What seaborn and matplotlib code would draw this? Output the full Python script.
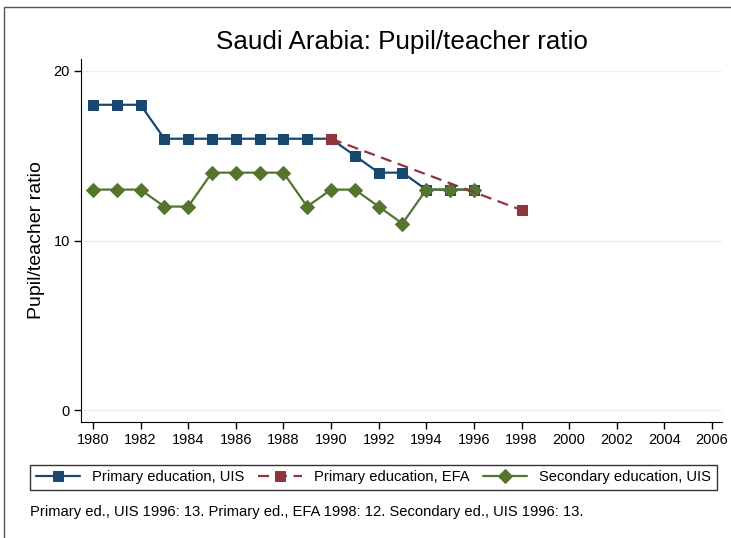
import numpy as np
import pandas as pd
import matplotlib
matplotlib.use("Agg")
import matplotlib.pyplot as plt
import seaborn as sns
from matplotlib.patches import Rectangle

# data
years_uis = [1980, 1981, 1982, 1983, 1984, 1985, 1986, 1987, 1988,
             1989, 1990, 1991, 1992, 1993, 1994, 1995, 1996]
primary_uis = [18, 18, 18, 16, 16, 16, 16, 16, 16, 16, 16, 15, 14, 14, 13, 13, 13]
secondary_uis = [13, 13, 13, 12, 12, 14, 14, 14, 14, 12, 13, 13, 12, 11, 13, 13, 13]
years_efa = [1990, 1998]
primary_efa = [16, 11.8]

x_ticks = list(range(1980, 2007, 2))
y_ticks = [0, 10, 20]
title = "Saudi Arabia: Pupil/teacher ratio"
note = "Primary ed., UIS 1996: 13. Primary ed., EFA 1998: 12. Secondary ed., UIS 1996: 13."

navy, maroon, green = "#1a476f", "#90353b", "#55752f"

sns.set_style("white")
plt.rcParams["font.family"] = ["Liberation Sans", "DejaVu Sans"]
plt.rcParams["text.color"] = "black"
plt.rcParams["axes.labelcolor"] = "black"
plt.rcParams["xtick.color"] = "black"
plt.rcParams["ytick.color"] = "black"

fig = plt.figure(figsize=(7.31, 5.38), dpi=100)
ax = fig.add_axes([81 / 731, 116 / 538, 641 / 731, 363 / 538])

df_p = pd.DataFrame({"year": years_uis, "ratio": primary_uis})
df_e = pd.DataFrame({"year": years_efa, "ratio": primary_efa})
df_s = pd.DataFrame({"year": years_uis, "ratio": secondary_uis})

sns.lineplot(data=df_p, x="year", y="ratio", ax=ax, color=navy, lw=1.6,
             marker="s", markersize=7, markeredgecolor=navy,
             label="Primary education, UIS", zorder=3)
sns.lineplot(data=df_e, x="year", y="ratio", ax=ax, color=maroon, lw=1.6,
             marker="s", markersize=7, markeredgecolor=maroon,
             linestyle=(0, (5, 3)), label="Primary education, EFA", zorder=4)
sns.lineplot(data=df_s, x="year", y="ratio", ax=ax, color=green, lw=1.6,
             marker="D", markersize=7.5, markeredgecolor=green,
             label="Secondary education, UIS", zorder=3)

ax.set_xlim(1979.5, 2006.42)
ax.set_ylim(-0.7, 20.7)
ax.set_xticks(x_ticks)
ax.set_yticks(y_ticks)
ax.tick_params(axis="both", labelsize=10.5, length=5, width=1, color="black",
               direction="out", left=True, bottom=True, pad=3)
for y in y_ticks:
    ax.axhline(y, color="#eaf0f4", lw=1, zorder=0)
sns.despine(ax=ax)
ax.spines["left"].set_color("black")
ax.spines["bottom"].set_color("black")
ax.set_xlabel("")
ax.set_ylabel("Pupil/teacher ratio", fontsize=14, labelpad=6)
ax.set_title(title, fontsize=18.7, pad=7)

handles, labels = ax.get_legend_handles_labels()
ax.get_legend().remove()
leg = fig.legend(handles, labels, ncol=3, mode="expand",
                 bbox_to_anchor=(30 / 731, 46 / 538, 687 / 731, 29 / 538),
                 loc="center", fontsize=10.6, frameon=True, fancybox=False,
                 handlelength=3.0, borderaxespad=0, columnspacing=1.5)
leg.get_frame().set_edgecolor("black")
leg.get_frame().set_linewidth(1)

fig.text(30 / 731, 1 - 512 / 538, note, fontsize=10.6, va="center", ha="left")

fig.patches.append(Rectangle((4 / 731, -0.1), 1.2, 1.1 - 7 / 538, transform=fig.transFigure,
                             fill=False, edgecolor="#555555", lw=1))

fig.savefig("out.png", dpi=100)
